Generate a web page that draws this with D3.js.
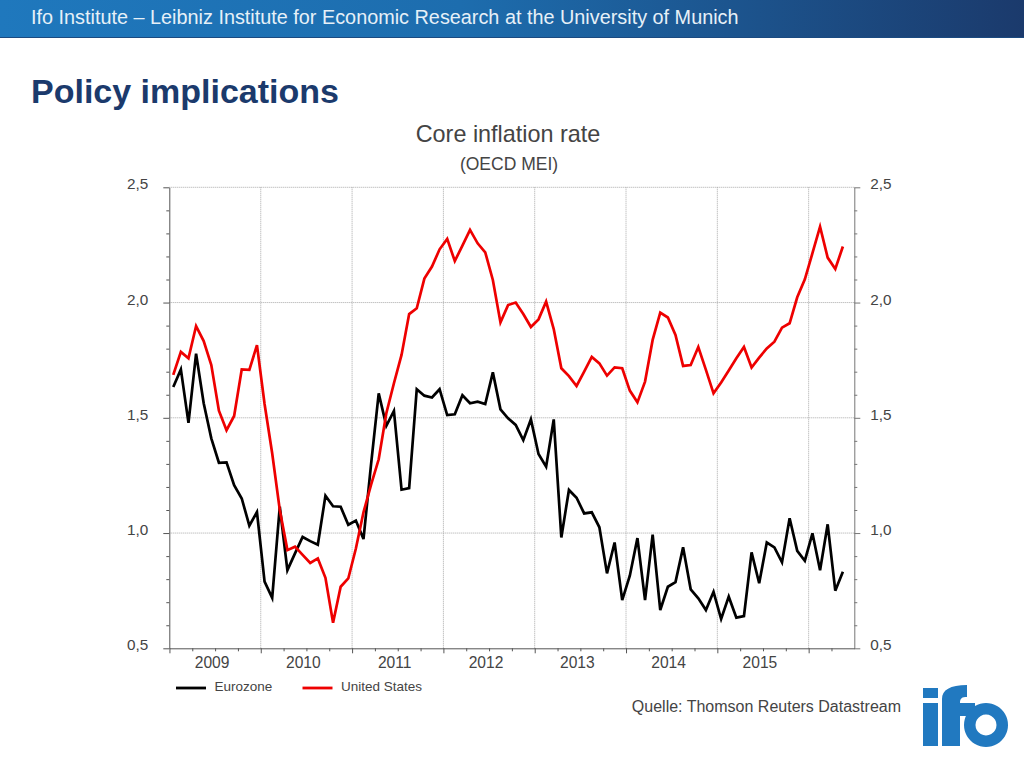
<!DOCTYPE html>
<html><head><meta charset="utf-8">
<script src="https://cdnjs.cloudflare.com/ajax/libs/d3/7.8.5/d3.min.js"></script>
<style>html,body{margin:0;padding:0;background:#fff}svg{display:block}text{font-family:"Liberation Sans",Arial,sans-serif}</style>
</head><body><svg id="c" width="1024" height="768"></svg>
<script>
const eurozone=[1.634,1.710,1.478,1.778,1.563,1.411,1.305,1.307,1.208,1.150,1.032,1.091,.789,.719,1.114,.839,.912,.983,.965,.949,1.162,1.116,1.114,1.036,1.054,.974,1.30,1.606,1.465,1.530,1.188,1.195,1.624,1.596,1.588,1.624,1.512,1.515,1.598,1.563,1.570,1.560,1.697,1.537,1.498,1.469,1.403,1.493,1.343,1.288,1.493,.981,1.187,1.153,1.085,1.090,1.025,.825,.959,.709,.815,.978,.709,.993,.666,.767,.787,.938,.756,.717,.666,.745,.627,.724,.633,.640,.916,.782,.959,.938,.873,1.064,.923,.880,.999,.839,1.038,.750,.832];
const unitedStates=[1.686,1.786,1.758,1.898,1.833,1.729,1.531,1.446,1.508,1.710,1.708,1.815,1.56,1.346,1.10,.926,.941,.905,.870,.890,.806,.611,.767,.803,.933,1.09,1.21,1.32,1.520,1.650,1.773,1.950,1.975,2.104,2.156,2.231,2.276,2.180,2.247,2.315,2.257,2.218,2.098,1.914,1.989,2.0,1.950,1.894,1.927,2.004,1.885,1.715,1.681,1.638,1.700,1.764,1.736,1.683,1.719,1.715,1.618,1.567,1.657,1.838,1.956,1.935,1.859,1.725,1.729,1.807,1.708,1.606,1.653,1.705,1.758,1.807,1.718,1.761,1.801,1.830,1.891,1.910,2.023,2.101,2.214,2.329,2.195,2.146,2.243];
const yearLabels=["2009","2010","2011","2012","2013","2014","2015"];
const yTicks=[0.5,1.0,1.5,2.0,2.5];
const yMinor=[0.6,0.7,0.8,0.9,1.1,1.2,1.3,1.4,1.6,1.7,1.8,1.9,2.1,2.2,2.3,2.4];
const yearBounds=[-0.5,11.5,23.5,35.5,47.5,59.5,71.5,83.5];
const quarterTicks=[2.5,5.5,8.5,14.5,17.5,20.5,26.5,29.5,32.5,38.5,41.5,44.5,50.5,53.5,56.5,62.5,65.5,68.5,74.5,77.5,80.5,86.5];
const seriesNames=["Eurozone","United States"];
const seriesColors=["#000000","#ee0000"];

const svg=d3.select("#c");
const defs=svg.append("defs");
const g=defs.append("linearGradient").attr("id","hd");
g.append("stop").attr("offset","0").attr("stop-color","#1f78bd");
g.append("stop").attr("offset","0.45").attr("stop-color","#1d6dae");
g.append("stop").attr("offset","1").attr("stop-color","#1b3a6c");
svg.append("rect").attr("x",0).attr("y",0).attr("width",1024).attr("height",38).attr("fill","url(#hd)");
svg.append("rect").attr("x",0).attr("y",37).attr("width",1024).attr("height",1).attr("fill","#1b4a80");
svg.append("text").attr("x",31).attr("y",24).attr("font-size",19.83).attr("fill","#e6f0f8").text("Ifo Institute – Leibniz Institute for Economic Research at the University of Munich");
svg.append("text").attr("x",31).attr("y",103).attr("font-size",34).attr("font-weight","bold").attr("fill","#1b3a6c").text("Policy implications");
svg.append("text").attr("x",508).attr("y",141.5).attr("text-anchor","middle").attr("font-size",23.4).attr("fill","#444").text("Core inflation rate");
svg.append("text").attr("x",509).attr("y",170).attr("text-anchor","middle").attr("font-size",17.5).attr("fill","#444").text("(OECD MEI)");

const x=d3.scaleLinear().domain([-0.52,89.5]).range([169.3,854.3]);
const y=d3.scaleLinear().domain([0.5,2.5]).range([648.3,187.3]);

// grid
const grid=svg.append("g").attr("stroke","#a8a8a8").attr("stroke-width",1).attr("stroke-dasharray","1 1").attr("fill","none");
grid.selectAll("line.h").data(yTicks.slice(1)).join("line").attr("class","h")
  .attr("x1",x.range()[0]).attr("x2",x.range()[1]).attr("y1",d=>y(d)).attr("y2",d=>y(d));
grid.selectAll("line.v").data(yearBounds.slice(1)).join("line").attr("class","v")
  .attr("x1",d=>x(d)).attr("x2",d=>x(d)).attr("y1",y(2.5)).attr("y2",y(0.5));

function styleAxis(s,col){s.selectAll("path,line").attr("stroke",col);s.selectAll("text").attr("fill","#444").attr("font-size",15.3).attr("font-family",'"Liberation Sans",Arial,sans-serif');}
const fmt=d=>d.toFixed(1).replace(".",",");
// left
svg.append("g").attr("transform",`translate(${x.range()[0]},0)`).call(d3.axisLeft(y).tickValues(yTicks).tickFormat(fmt).tickSize(6).tickSizeOuter(0).tickPadding(15)).call(s=>styleAxis(s,"#555"))
  .selectAll("text").attr("dy","0.1em");
svg.append("g").attr("transform",`translate(${x.range()[0]},0)`).call(d3.axisLeft(y).tickValues(yMinor).tickFormat("").tickSize(3).tickSizeOuter(0)).call(s=>styleAxis(s,"#555")).select("path").remove();
// right
svg.append("g").attr("transform",`translate(${x.range()[1]},0)`).call(d3.axisRight(y).tickValues(yTicks).tickFormat(fmt).tickSize(6).tickSizeOuter(0).tickPadding(10)).call(s=>styleAxis(s,"#777"))
  .selectAll("text").attr("dy","0.1em");
svg.append("g").attr("transform",`translate(${x.range()[1]},0)`).call(d3.axisRight(y).tickValues(yMinor).tickFormat("").tickSize(3).tickSizeOuter(0)).call(s=>styleAxis(s,"#777")).select("path").remove();
// bottom
svg.append("g").attr("transform",`translate(0,${y(0.5)})`).call(d3.axisBottom(x).tickValues(yearBounds).tickFormat("").tickSize(5).tickSizeOuter(0)).call(s=>styleAxis(s,"#555"));
svg.append("g").attr("transform",`translate(0,${y(0.5)})`).call(d3.axisBottom(x).tickValues(quarterTicks).tickFormat("").tickSize(3).tickSizeOuter(0)).call(s=>styleAxis(s,"#555")).select("path").remove();
svg.append("g").selectAll("text").data(yearLabels).join("text")
  .attr("x",(d,i)=>x(yearBounds[i]+5.6)).attr("y",667.5).attr("text-anchor","middle").attr("font-size",15.6).attr("fill","#444").text(d=>d);

// lines
const line=d3.line().x((d,i)=>x(i)).y(d=>y(d));
[eurozone,unitedStates].forEach((s,k)=>{
  svg.append("path").datum(s).attr("d",line).attr("fill","none").attr("stroke",seriesColors[k]).attr("stroke-width",2.7).attr("stroke-linejoin","miter");
});

// legend
const legX=[176,302.5];
const leg=svg.append("g").selectAll("g").data(seriesNames).join("g");
leg.append("line").attr("x1",(d,i)=>legX[i]).attr("x2",(d,i)=>legX[i]+30).attr("y1",688).attr("y2",688).attr("stroke",(d,i)=>seriesColors[i]).attr("stroke-width",2.8);
leg.append("text").attr("x",(d,i)=>legX[i]+38.5).attr("y",690.5).attr("font-size",13.5).attr("fill","#444").text(d=>d);

svg.append("text").attr("x",901).attr("y",712).attr("text-anchor","end").attr("font-size",16).attr("fill","#444").text("Quelle: Thomson Reuters Datastream");

// logo
const L=svg.append("g").attr("fill","#2179c0");
L.append("rect").attr("x",923).attr("y",688).attr("width",15).attr("height",10);
L.append("rect").attr("x",923).attr("y",703).attr("width",15).attr("height",43);
L.append("path").attr("d","M942 746V699C942 690 950 685 967 685V697C962 697 960 698 960 703H975V716H960V746Z");
L.append("path").attr("fill-rule","evenodd").attr("d","M986 703a22 22 0 1 0 0.01 0ZM986 714.5a10.5 10.5 0 1 1 -0.01 0Z");
</script></body></html>
